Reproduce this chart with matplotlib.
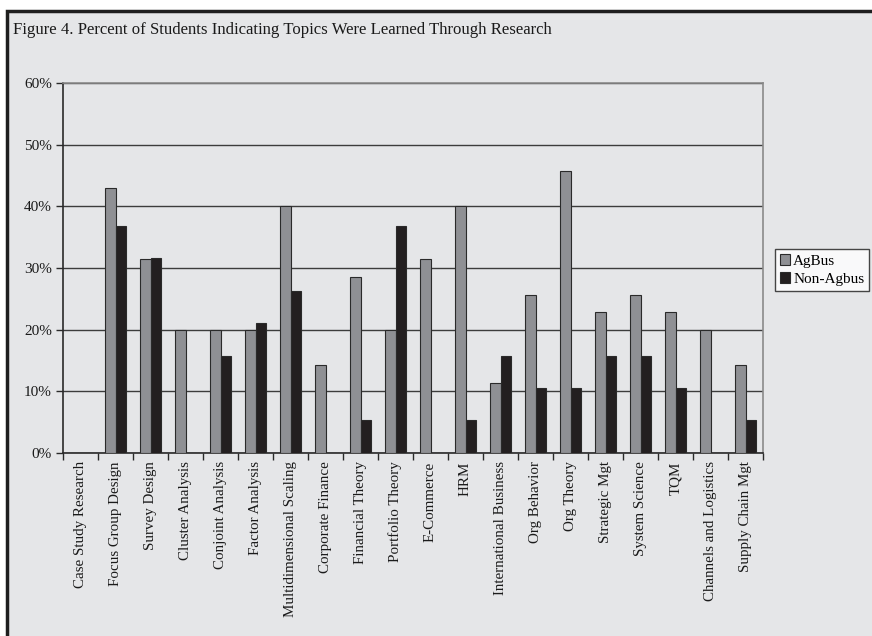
#------------------------------------------------------------------------------
# IMPORTS
#------------------------------------------------------------------------------
import numpy as np
from matplotlib import pyplot as plt
from matplotlib.patches import Rectangle
from matplotlib.ticker import FixedLocator, PercentFormatter

#------------------------------------------------------------------------------
# DATA
#------------------------------------------------------------------------------
topics = [
    "Case Study Research", "Focus Group Design", "Survey Design",
    "Cluster Analysis", "Conjoint Analysis", "Factor Analysis",
    "Multidimensional Scaling", "Corporate Finance", "Financial Theory",
    "Portfolio Theory", "E-Commerce", "HRM", "International Business",
    "Org Behavior", "Org Theory", "Strategic Mgt", "System Science", "TQM",
    "Channels and Logistics", "Supply Chain Mgt",
]

# percent of students, by group
agbus = [0.0, 42.9, 31.4, 20.0, 20.0, 20.0, 40.0, 14.3, 28.6, 20.0,
         31.4, 40.0, 11.4, 25.7, 45.7, 22.9, 25.7, 22.9, 20.0, 14.3]
non_agbus = [0.0, 36.8, 31.6, 0.0, 15.8, 21.1, 26.3, 0.0, 5.3, 36.8,
             0.0, 5.3, 15.8, 10.5, 10.5, 15.8, 15.8, 10.5, 0.0, 5.3]

series_names = ["AgBus", "Non-Agbus"]
yticks = [0, 10, 20, 30, 40, 50, 60]

#------------------------------------------------------------------------------
# STYLE
#------------------------------------------------------------------------------
BG = "#e5e6e8"
GREY = "#8f9094"
BLACK = "#231f20"
FONT = "Liberation Serif"
FS = 11

plt.rcParams['font.family'] = [FONT, 'DejaVu Serif']

#------------------------------------------------------------------------------
# MAIN
#------------------------------------------------------------------------------
def main():

    fig = plt.figure(figsize=(8.72, 6.36), dpi=100, facecolor="white")

    # framed panel, only its top and left edges fall inside the image
    W, H = 872, 636
    frame = Rectangle((7 / W, -0.1), 1.2, 1.1 - 11 / H,
                      transform=fig.transFigure, facecolor=BG,
                      edgecolor="#1e1e1e", linewidth=2.5, zorder=-10)
    fig.patches.append(frame)

    fig.text(13 / W, 1 - 30 / H,
             "Figure 4. Percent of Students Indicating Topics Were "
             "Learned Through Research",
             fontsize=12.1, va="center", ha="left", color="#1a1a1a")

    ax = fig.add_axes([63 / W, 1 - 453 / H, 700 / W, 370 / H])
    ax.set_zorder(1)
    ax.set_facecolor(BG)

    x = np.arange(len(topics))
    width = 0.3
    ax.bar(x - width / 2, agbus, width, color=GREY, edgecolor="#2a2a2a",
           linewidth=0.8, label=series_names[0], zorder=3)
    ax.bar(x + width / 2, non_agbus, width, color=BLACK, edgecolor="#2a2a2a",
           linewidth=0.8, label=series_names[1], zorder=3)

    ax.set_xlim(-0.5, len(topics) - 0.5)
    ax.set_ylim(0, 60)

    ax.set_yticks(yticks)
    ax.yaxis.set_major_formatter(PercentFormatter(decimals=0))
    ax.grid(axis="y", color="#3c3c3c", linewidth=1.0, zorder=1)

    # ticks sit on category boundaries, labels under each category
    ax.xaxis.set_major_locator(FixedLocator(np.arange(len(topics) + 1) - 0.5))
    ax.set_xticklabels([])
    ax.xaxis.set_minor_locator(FixedLocator(x))
    ax.set_xticklabels(topics, minor=True, rotation=90, fontsize=10.8,
                       color="#1a1a1a")
    ax.tick_params(axis="x", which="minor", length=0, pad=6)
    ax.tick_params(axis="x", which="major", length=5, width=1,
                   color="#2a2a2a", direction="out")
    ax.tick_params(axis="y", length=5, width=1, color="#2a2a2a",
                   labelsize=FS, labelcolor="#1a1a1a", pad=3)

    for side in ["left", "bottom"]:
        ax.spines[side].set_color("#2a2a2a")
        ax.spines[side].set_linewidth(1.2)
    for side in ["top", "right"]:
        ax.spines[side].set_color("#8a8a8a")
        ax.spines[side].set_linewidth(1.2)

    leg = fig.legend(loc="center left", bbox_to_anchor=(775 / W, 1 - 270 / H),
                     fontsize=FS, frameon=True, fancybox=False,
                     handlelength=0.7, handleheight=0.7, handletextpad=0.2,
                     borderpad=0.3, labelspacing=0.3, borderaxespad=0)
    leg.get_frame().set_edgecolor("#1a1a1a")
    leg.get_frame().set_facecolor("white")
    leg.get_frame().set_linewidth(1.0)

    fig.savefig("out.png", dpi=100, facecolor="white")

#------------------------------------------------------------------------------
if __name__ == '__main__':
    main()
